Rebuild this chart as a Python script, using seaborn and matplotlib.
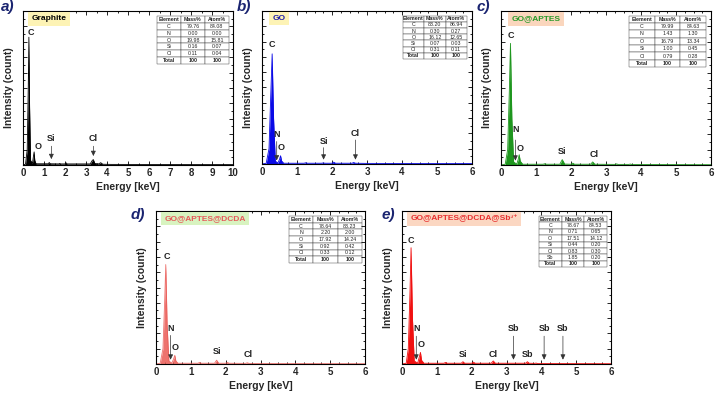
import matplotlib
matplotlib.use("Agg")
import matplotlib.pyplot as plt
import seaborn as sns
import pandas as pd
import numpy as np
from matplotlib.ticker import MultipleLocator, NullFormatter

sns.set_theme(style="white")
plt.rcParams['font.family'] = ['Liberation Sans', 'DejaVu Sans']

# ---------------- data ----------------
a_E = [0, 0.12, 0.2, 0.25, 0.28, 0.31, 0.36, 0.45, 0.5, 0.53, 0.56, 0.62, 1.2, 1.25, 1.3,
       1.7, 1.75, 1.8, 2.0, 2.05, 2.1, 3.2, 3.3, 3.35, 3.42, 3.6, 3.7, 3.8, 4.2, 10]
a_I = [0, 0.005, 0.1, 0.5, 0.83, 0.4, 0.03, 0.01, 0.06, 0.085, 0.03, 0.008, 0.008, 0.016, 0.008,
       0.007, 0.01, 0.007, 0.007, 0.014, 0.007, 0.007, 0.03, 0.035, 0.01, 0.007, 0.015, 0.005, 0.004, 0.003]

b_E = [0, 0.12, 0.2, 0.25, 0.29, 0.33, 0.38, 0.45, 0.5, 0.53, 0.56, 0.62, 1.2, 1.25, 1.3,
       1.7, 1.75, 1.8, 2.0, 2.05, 2.1, 2.57, 2.62, 2.67, 3.0, 6]
b_I = [0, 0.005, 0.1, 0.45, 0.72, 0.3, 0.02, 0.006, 0.03, 0.054, 0.02, 0.005, 0.005, 0.008, 0.005,
       0.005, 0.007, 0.005, 0.005, 0.012, 0.005, 0.005, 0.01, 0.005, 0.004, 0.003]

c_E = [0, 0.12, 0.19, 0.24, 0.27, 0.31, 0.36, 0.45, 0.49, 0.52, 0.55, 0.62, 1.2, 1.25, 1.3,
       1.68, 1.75, 1.82, 2.0, 2.05, 2.1, 2.56, 2.62, 2.68, 3.25, 3.3, 3.35, 3.65, 3.7, 3.75, 6]
c_I = [0, 0.005, 0.1, 0.5, 0.79, 0.3, 0.02, 0.006, 0.035, 0.067, 0.025, 0.005, 0.005, 0.008, 0.005,
       0.005, 0.035, 0.006, 0.005, 0.012, 0.005, 0.005, 0.02, 0.005, 0.004, 0.007, 0.004, 0.004, 0.006, 0.003, 0.002]

d_E = [0, 0.12, 0.2, 0.25, 0.28, 0.32, 0.37, 0.45, 0.5, 0.54, 0.57, 0.63, 1.2, 1.25, 1.3,
       1.68, 1.74, 1.8, 2.0, 2.05, 2.1, 2.57, 2.62, 2.67, 3.25, 3.3, 3.35, 6]
d_I = [0, 0.005, 0.1, 0.42, 0.65, 0.25, 0.02, 0.006, 0.03, 0.057, 0.02, 0.005, 0.005, 0.01, 0.005,
       0.005, 0.025, 0.005, 0.005, 0.01, 0.005, 0.004, 0.008, 0.004, 0.003, 0.004, 0.003, 0.002]

e_E = [0, 0.12, 0.18, 0.23, 0.26, 0.3, 0.35, 0.45, 0.49, 0.53, 0.56, 0.63, 1.2, 1.25, 1.3,
       1.7, 1.75, 1.8, 2.0, 2.05, 2.1, 2.56, 2.62, 2.68, 3.55, 3.6, 3.65, 3.8, 3.85, 3.9, 6]
e_I = [0, 0.005, 0.1, 0.48, 0.76, 0.3, 0.02, 0.006, 0.04, 0.076, 0.025, 0.005, 0.005, 0.01, 0.005,
       0.005, 0.015, 0.005, 0.005, 0.012, 0.005, 0.005, 0.02, 0.005, 0.005, 0.015, 0.005, 0.004, 0.006, 0.003, 0.002]

tab_cols = ["Element", "Mass%", "Atom%"]
a_tab = [["C", "79.76", "84.08"], ["N", "0.00", "0.00"], ["O", "19.98", "15.81"],
         ["Si", "0.16", "0.07"], ["Cl", "0.11", "0.04"], ["Total", "100", "100"]]
b_tab = [["C", "83.20", "86.94"], ["N", "0.30", "0.27"], ["O", "16.12", "12.65"],
         ["Si", "0.07", "0.03"], ["Cl", "0.31", "0.11"], ["Total", "100", "100"]]
c_tab = [["C", "79.99", "84.63"], ["N", "1.43", "1.30"], ["O", "16.79", "13.34"],
         ["Si", "1.00", "0.45"], ["Cl", "0.79", "0.28"], ["Total", "100", "100"]]
d_tab = [["C", "78.64", "83.23"], ["N", "2.20", "2.00"], ["O", "17.92", "14.24"],
         ["Si", "0.92", "0.42"], ["Cl", "0.33", "0.12"], ["Total", "100", "100"]]
e_tab = [["C", "78.67", "84.53"], ["N", "0.71", "0.65"], ["O", "17.51", "14.12"],
         ["Si", "0.44", "0.20"], ["Cl", "0.83", "0.30"], ["Sb", "1.85", "0.20"], ["Total", "100", "100"]]

# labels: (text, x, y_center, arrow_top, arrow_bottom)  (None = no arrow)
a_lab = [("C", 0.38, 0.86, None, None), ("O", 0.73, 0.12, None, None),
         ("Si", 1.35, 0.17, 0.14, 0.02), ("Cl", 3.35, 0.17, 0.14, 0.04)]
b_lab = [("C", 0.29, 0.78, None, None), ("N", 0.42, 0.19, 0.165, 0.005), ("O", 0.56, 0.11, None, None),
         ("Si", 1.76, 0.15, 0.125, 0.01), ("Cl", 2.67, 0.20, 0.175, 0.01)]
c_lab = [("C", 0.27, 0.84, None, None), ("N", 0.41, 0.23, 0.18, 0.01), ("O", 0.55, 0.11, None, None),
         ("Si", 1.75, 0.085, None, None), ("Cl", 2.65, 0.07, None, None)]
d_lab = [("C", 0.30, 0.70, None, None), ("N", 0.42, 0.23, 0.205, 0.01), ("O", 0.55, 0.11, None, None),
         ("Si", 1.75, 0.08, None, None), ("Cl", 2.65, 0.065, None, None)]
e_lab = [("C", 0.26, 0.81, None, None), ("N", 0.41, 0.23, 0.2, 0.01), ("O", 0.54, 0.125, None, None),
         ("Si", 1.75, 0.06, None, None), ("Cl", 2.61, 0.06, None, None),
         ("Sb", 3.20, 0.23, 0.2, 0.01), ("Sb", 4.08, 0.23, 0.2, 0.01), ("Sb", 4.62, 0.23, 0.2, 0.01),
         ("Sb", 3.60, 0.06, None, None)]

panels = [
    dict(letter="a)", E=a_E, I=a_I, xmax=10, color="black", alpha=1.0,
         pos=[23, 11, 210, 154], title="Graphite", tcol="black", tbg="#fdf3b5", tx=0.04,
         tab=a_tab, tbox=[0.638, 0.656, 0.342, 0.311], lab=a_lab, lpos=(1, 0)),
    dict(letter="b)", E=b_E, I=b_I, xmax=6, color="#0a0ae6", alpha=1.0,
         pos=[262, 11, 210, 153], title="GO", tcol="#1c1ca8", tbg="#fdf3b5", tx=0.05,
         tab=b_tab, tbox=[0.67, 0.686, 0.306, 0.284], lab=b_lab, lpos=(237, 0)),
    dict(letter="c)", E=c_E, I=c_I, xmax=6, color="#1e961e", alpha=1.0,
         pos=[501, 11, 210, 154], title="GO@APTES", tcol="#2a9a2a", tbg="#fad6bd", tx=0.05,
         tab=c_tab, tbox=[0.61, 0.636, 0.366, 0.334], lab=c_lab, lpos=(477, 0)),
    dict(letter="d)", E=d_E, I=d_I, xmax=6, color="#ea5a55", alpha=0.85,
         pos=[156, 211, 209, 153], title="GO@APTES@DCDA", tcol="#e65a5a", tbg="#d8f3c0", tx=0.04,
         tab=d_tab, tbox=[0.636, 0.66, 0.349, 0.307], lab=d_lab, lpos=(131, 208)),
    dict(letter="e)", E=e_E, I=e_I, xmax=6, color="#f01010", alpha=1.0,
         pos=[402, 211, 209, 153], title="GO@APTES@DCDA@Sb³⁺", tcol="#e83030",
         tbg="#fbd7c2", tx=0.04,
         tab=e_tab, tbox=[0.655, 0.634, 0.326, 0.333], lab=e_lab, lpos=(382, 208)),
]

W, H = 720, 393
fig = plt.figure(figsize=(7.2, 3.93), dpi=100)

for p in panels:
    x0, y0, w, h = p["pos"]
    ax = fig.add_axes([x0 / W, 1 - (y0 + h) / H, w / W, h / H])
    df = pd.DataFrame({"Energy": p["E"], "Intensity": p["I"]})
    sns.lineplot(data=df, x="Energy", y="Intensity", ax=ax, color=p["color"], lw=0.6, alpha=p["alpha"])
    ax.fill_between(df["Energy"], df["Intensity"], color=p["color"], alpha=p["alpha"], lw=0)
    ax.set_xlim(0, p["xmax"])
    ax.set_ylim(0, 1)
    ax.xaxis.set_major_locator(MultipleLocator(1))
    ax.xaxis.set_minor_locator(MultipleLocator(0.5 if p["xmax"] == 10 else 0.25))
    ax.yaxis.set_major_locator(MultipleLocator(0.1))
    ax.yaxis.set_minor_locator(MultipleLocator(0.05))
    ax.yaxis.set_major_formatter(NullFormatter())
    ax.tick_params(which="both", direction="in", top=True, right=True, bottom=True, left=True,
                   color="black", width=0.6)
    ax.tick_params(which="major", length=3, labelsize=7, pad=2)
    ax.tick_params(which="minor", length=1.5)
    for lbl in ax.get_xticklabels():
        lbl.set_fontweight("bold")
    for s in ax.spines.values():
        s.set_color("black")
        s.set_linewidth(0.8)
    ax.set_xlabel("Energy [keV]", fontsize=7.5, fontweight="bold", labelpad=3)
    ax.set_ylabel("Intensity (count)", fontsize=7.5, fontweight="bold", labelpad=3)

    # sample title box
    ax.text(p["tx"], 0.95, p["title"], transform=ax.transAxes, fontsize=6, fontweight="bold",
            color=p["tcol"], ha="left", va="center",
            bbox=dict(boxstyle="square,pad=0.4", fc=p["tbg"], ec="none"))

    # element labels
    for (t, x, y, at, ab) in p["lab"]:
        ax.text(x, y, t, fontsize=6.5, fontweight="bold", ha="center", va="center", color="#222222")
        if at is not None:
            ax.annotate("", xy=(x, ab), xytext=(x, at),
                        arrowprops=dict(arrowstyle="-|>,head_length=0.25,head_width=0.12",
                                        color="#333333", lw=0.5))

    # composition table
    tb = ax.table(cellText=p["tab"], colLabels=tab_cols, bbox=p["tbox"], cellLoc="center")
    tb.auto_set_font_size(False)
    tb.set_fontsize(3.8)
    nrows = len(p["tab"])
    for (r, c), cell in tb.get_celld().items():
        cell.set_linewidth(0.3)
        cell.set_edgecolor("#333333")
        cell.set_facecolor("white")
        if r == 0 or r == nrows:
            cell.get_text().set_fontweight("bold")

    fig.text(p["lpos"][0] / W, 1 - p["lpos"][1] / H, p["letter"], fontsize=11, fontweight="bold",
             fontstyle="italic", color="#1a2470", ha="left", va="top")

fig.savefig("out.png", dpi=100)
